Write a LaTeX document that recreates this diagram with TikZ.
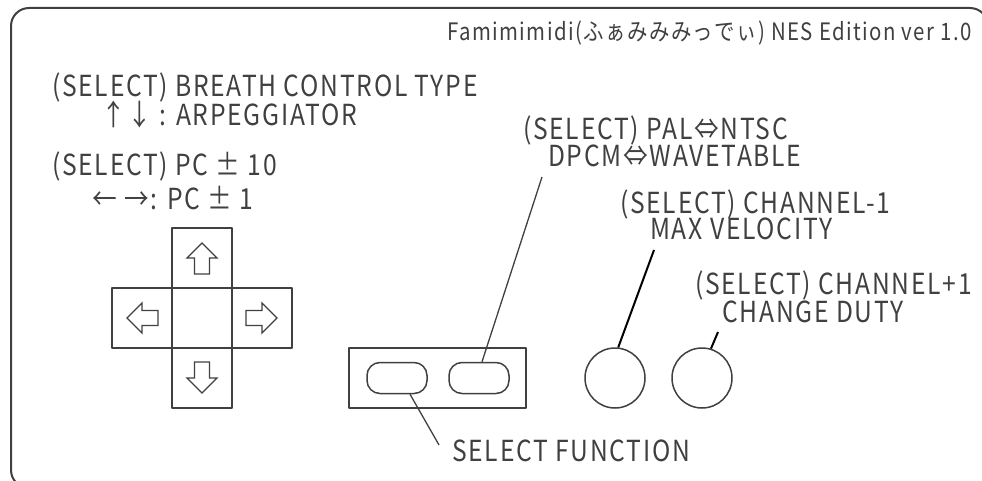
\documentclass[tikz,border=0pt]{standalone}
\usepackage{fontspec}
\setmainfont{Noto Sans CJK JP}[FakeStretch=0.85, LetterSpace=6]
\usepackage{tikz}
\usetikzlibrary{positioning, calc}
\definecolor{PanelInk}{HTML}{404040}

\begin{document}
\begin{tikzpicture}[x=1pt, y=-1pt, line join=round,
    padarrow/.pic={\draw[PanelInk, line width=1.4pt, line join=miter] (0,-15) -- (15,0) -- (7.5,0) -- (7.5,16) -- (-7.5,16) -- (-7.5,0) -- (-15,0) -- cycle;}]
    \tikzstyle{paneltext} = [anchor=base west, inner sep=0pt, text=PanelInk, font=\fontsize{29}{32}\selectfont]
    \tikzstyle{padkey} = [rectangle, draw=PanelInk, line width=1.8pt, minimum size=60pt, inner sep=0pt, outer sep=0pt]
    \tikzstyle{selkey} = [rectangle, draw=PanelInk, line width=1.5pt, rounded corners=13pt, minimum width=60pt, minimum height=31pt, inner sep=0pt]
    \tikzstyle{knob} = [circle, draw=PanelInk, line width=1.5pt, minimum size=60pt, inner sep=0pt]
    \tikzstyle{leader} = [draw, PanelInk, line width=1.3pt]
    \tikzstyle{leaderdark} = [draw, black, line width=2pt]

    \useasboundingbox (0,0) rectangle (982,481);
    \clip (0,0) rectangle (982,481);
    \draw [PanelInk, line width=2pt, rounded corners=18pt] (11,8) rectangle (988,488);

    \node [paneltext, font=\fontsize{24}{28}\selectfont] (title) at (447,41) {Famimimidi(ふぁみみみっでぃ) NES Edition ver 1.0};

    \node [paneltext] (breath) at (52,97) {(SELECT) BREATH CONTROL TYPE};
    \node [paneltext] (arpeg) at (101,126) {↑↓ : ARPEGGIATOR};
    \node [paneltext] (pcten) at (52,176) {(SELECT) PC ± 10};
    \node [paneltext] (pcone) at (92,209) {← →: PC ± 1};

    \node [paneltext] (palntsc) at (523,140) {(SELECT) PAL⇔NTSC};
    \node [paneltext] (dpcm) at (548,167) {DPCM⇔WAVETABLE};
    \node [paneltext] (chdown) at (620,213) {(SELECT) CHANNEL-1};
    \node [paneltext] (maxvel) at (650,240) {MAX VELOCITY};
    \node [paneltext] (chup) at (695,294) {(SELECT) CHANNEL+1};
    \node [paneltext] (duty) at (722,322) {CHANGE DUTY};
    \node [paneltext] (selfunc) at (452,461) {SELECT FUNCTION};

    \node [padkey] (padmid) at (202,318) {};
    \node [padkey, above=0pt of padmid] (padup) {};
    \node [padkey, below=0pt of padmid] (paddown) {};
    \node [padkey, left=0pt of padmid] (padleft) {};
    \node [padkey, right=0pt of padmid] (padright) {};
    \pic at (padup) {padarrow};
    \pic [rotate=180] at (paddown) {padarrow};
    \pic [rotate=90] at (padleft) {padarrow};
    \pic [rotate=-90] at (padright) {padarrow};

    \node [rectangle, draw=PanelInk, line width=1.5pt, minimum width=177pt, minimum height=60pt] (selpanel) at (437.5,378) {};
    \node [selkey] (selA) at (397,378) {};
    \node [selkey] (selB) at (479,378) {};
    \node [knob] (knobA) at (615,378) {};
    \node [knob] (knobB) at (702,378) {};

    \path [leader] ([shift={(-6,10)}]dpcm.base west) -- ([xshift=3pt]selB.north);
    \path [leaderdark] ([shift={(4,10)}]maxvel.base west) -- (knobA.84);
    \path [leaderdark] ([shift={(-4,10)}]duty.base west) -- (knobB.73);
    \path [leader] ([xshift=13pt]selA.south) -- ([shift={(-13,-16)}]selfunc.base west);
\end{tikzpicture}
\end{document}
